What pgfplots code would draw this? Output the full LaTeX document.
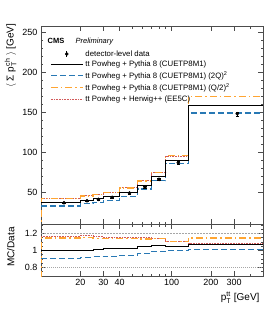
\documentclass[border=0pt]{standalone}
\usepackage{fontspec}
\setmainfont{Liberation Sans}
\usepackage{pgfplots}
\pgfplotsset{compat=1.18}
\definecolor{cblue}{RGB}{40,120,180}
\definecolor{corange}{RGB}{255,165,50}
\definecolor{cred}{RGB}{210,90,90}
\pgfplotsset{
  sBlack/.style={black, line width=0.8pt},
  sBlue/.style={cblue, line width=1.1pt, dash pattern=on 6pt off 3pt},
  sOrange/.style={corange, line width=1.4pt, dash pattern=on 7pt off 3pt on 1.5pt off 3pt},
  sRed/.style={cred, line width=0.8pt, dash pattern=on 0.8pt off 0.8pt},
}
\begin{document}
\begin{tikzpicture}
\path[use as bounding box] (-41pt,-33pt) rectangle (233pt,276pt);
% ---------------- upper panel ----------------
\begin{axis}[scale only axis, width=222pt, height=198pt, xmode=log, xmin=10, xmax=500,
  at={(0pt,52pt)}, anchor=south west,
  axis line style={line width=0.7pt, black!70},
  tick style={black!70, line width=0.5pt},
  major tick length=5pt, minor tick length=2.5pt,
  xtick={20,30,40,100,200,300}, minor xtick={50,60,70,80,90,400},
  tick align=inside, xtick pos=both, ytick pos=both,
  tick label style={font=\fontsize{9}{10}\selectfont},
  /pgf/number format/assume math mode=true,
  ymin=10, ymax=258, ytick={50,100,150,200,250}, minor y tick num=4,
  xticklabels={},
  ylabel={$\langle$ Σ $\mathrm{p}_{\mathrm{T}}^{\mathrm{ch}}$ $\rangle$ [GeV]},
  ylabel style={at={(axis description cs:-0.095,1.03)}, anchor=south east, font=\fontsize{10}{11}\selectfont},
  legend image code/.code={\draw[#1] (0pt,0pt) -- (32pt,0pt);},
  legend style={at={(axis description cs:0.04,0.888)}, anchor=north west, draw=none, fill=none,
    font=\fontsize{7.8}{9}\selectfont, row sep=-0.4pt, inner sep=0pt, cells={anchor=west}},
]
\addlegendimage{black, legend image code/.code={\draw[black, line width=0.6pt] (16pt,-3pt)--(16pt,3pt); \fill[black] (16pt,0pt) circle (1.6pt);}}
\addlegendentry{detector-level data}
\addlegendimage{sBlack}
\addlegendentry{tt Powheg + Pythia 8 (CUETP8M1)}
\addlegendimage{sBlue}
\addlegendentry{tt Powheg + Pythia 8 (CUETP8M1) (2Q)\textsuperscript{2}}
\addlegendimage{sOrange}
\addlegendentry{tt Powheg + Pythia 8 (CUETP8M1) (Q/2)\textsuperscript{2}}
\addlegendimage{sRed}
\addlegendentry{tt Powheg + Herwig++ (EE5C)}

\addplot[sRed, const plot, forget plot] coordinates {
 (10,42.2) (20,45.8) (25,47.3) (30,49.7) (40,55.4) (55,64.2) (70,74.5) (90,95.0) (135,158.5) (500,158.5)};
\addplot[sOrange, const plot, forget plot] coordinates {
 (10,0) (10,41.8) (20,45.0) (25,46.8) (30,49.5) (40,55.3) (55,63.8) (70,74.6) (90,95.5) (135,170) (500,170)};
\addplot[sBlue, const plot, forget plot] coordinates {
 (10,32.5) (20,35.5) (25,37.1) (30,39.6) (40,45.0) (55,53.8) (70,64.2) (90,86.0) (135,149) (500,149)};
\addplot[sBlack, const plot, forget plot] coordinates {
 (10,36.7) (20,39.6) (25,41.7) (30,44.2) (40,49.6) (55,58.0) (70,69.2) (90,89.4) (135,158) (500,158)};
\addplot[only marks, mark=*, mark size=1.6pt, black, forget plot,
  error bars/.cd, y dir=both, y explicit] coordinates {
 (15,36.7) +- (0,1.2) (22.5,39.2) +- (0,1.2) (27.5,40.9) +- (0,1.2) (35,43.4) +- (0,1.2)
 (47.5,48.8) +- (0,1.3) (62.5,56.3) +- (0,1.4) (80,65.9) +- (0,1.5) (112.5,86.7) +- (0,1.8) (317.5,148) +- (0,2.5)};

\node[anchor=base west, font=\bfseries\fontsize{7.5}{9}\selectfont] at (axis description cs:0.014,0.914) {CMS};
\node[anchor=base west, font=\itshape\fontsize{7.5}{9}\selectfont] at (axis description cs:0.14,0.914) {Preliminary};
\node[anchor=base east, font=\fontsize{8}{9}\selectfont] at (axis description cs:0.975,1.03) {2.2 fb\textsuperscript{-1} (13 TeV)};
\end{axis}
% ---------------- ratio panel ----------------
\begin{axis}[scale only axis, width=222pt, height=52pt, xmode=log, xmin=10, xmax=500,
  at={(0pt,0pt)}, anchor=south west,
  axis line style={line width=0.7pt, black!70},
  tick style={black!70, line width=0.5pt},
  major tick length=5pt, minor tick length=2.5pt,
  xtick={20,30,40,100,200,300}, minor xtick={50,60,70,80,90,400},
  tick align=inside, xtick pos=both, ytick pos=both,
  tick label style={font=\fontsize{9}{10}\selectfont},
  /pgf/number format/assume math mode=true,
  ymin=0.7, ymax=1.31, ytick={0.8,1,1.2}, yticklabels={0.8,1,1.2},
  minor ytick={0.75,0.85,0.9,0.95,1.05,1.1,1.15,1.25,1.3},
  xticklabels={20,30,40,100,200,300},
  ylabel={MC/Data},
  ylabel style={at={(axis description cs:-0.104,0.56)}, anchor=south, font=\fontsize{10}{11}\selectfont},
  xlabel={$\mathrm{p}_{\mathrm{T}}^{\mathrm{tt}}$ [GeV]},
  xlabel style={at={(axis description cs:1,-0.24)}, anchor=north east, font=\fontsize{10}{11}\selectfont},
]
\addplot[gray!70, line width=0.6pt, dash pattern=on 2pt off 1pt] coordinates {(10,1.2) (500,1.2)};
\addplot[gray!70, line width=0.6pt, dash pattern=on 1pt off 1pt] coordinates {(10,0.8) (500,0.8)};
\addplot[sRed, const plot] coordinates {
 (10,1.165) (20,1.18) (25,1.165) (30,1.15) (40,1.15) (55,1.15) (70,1.145) (90,1.11) (135,1.08) (500,1.08)};
\addplot[sOrange, const plot] coordinates {
 (10,0) (10,1.145) (20,1.15) (25,1.14) (30,1.14) (40,1.14) (55,1.135) (70,1.14) (90,1.105) (135,1.145) (500,1.145)};
\addplot[sBlue, const plot] coordinates {
 (10,0.91) (20,0.92) (25,0.925) (30,0.93) (40,0.945) (55,0.965) (70,0.99) (90,1.00) (135,1.01) (500,1.01)};
\addplot[sBlack, const plot] coordinates {
 (10,1.00) (20,1.00) (25,1.01) (30,1.02) (40,1.02) (55,1.045) (70,1.06) (90,1.05) (135,1.075) (500,1.075)};
\end{axis}
\end{tikzpicture}
\end{document}
